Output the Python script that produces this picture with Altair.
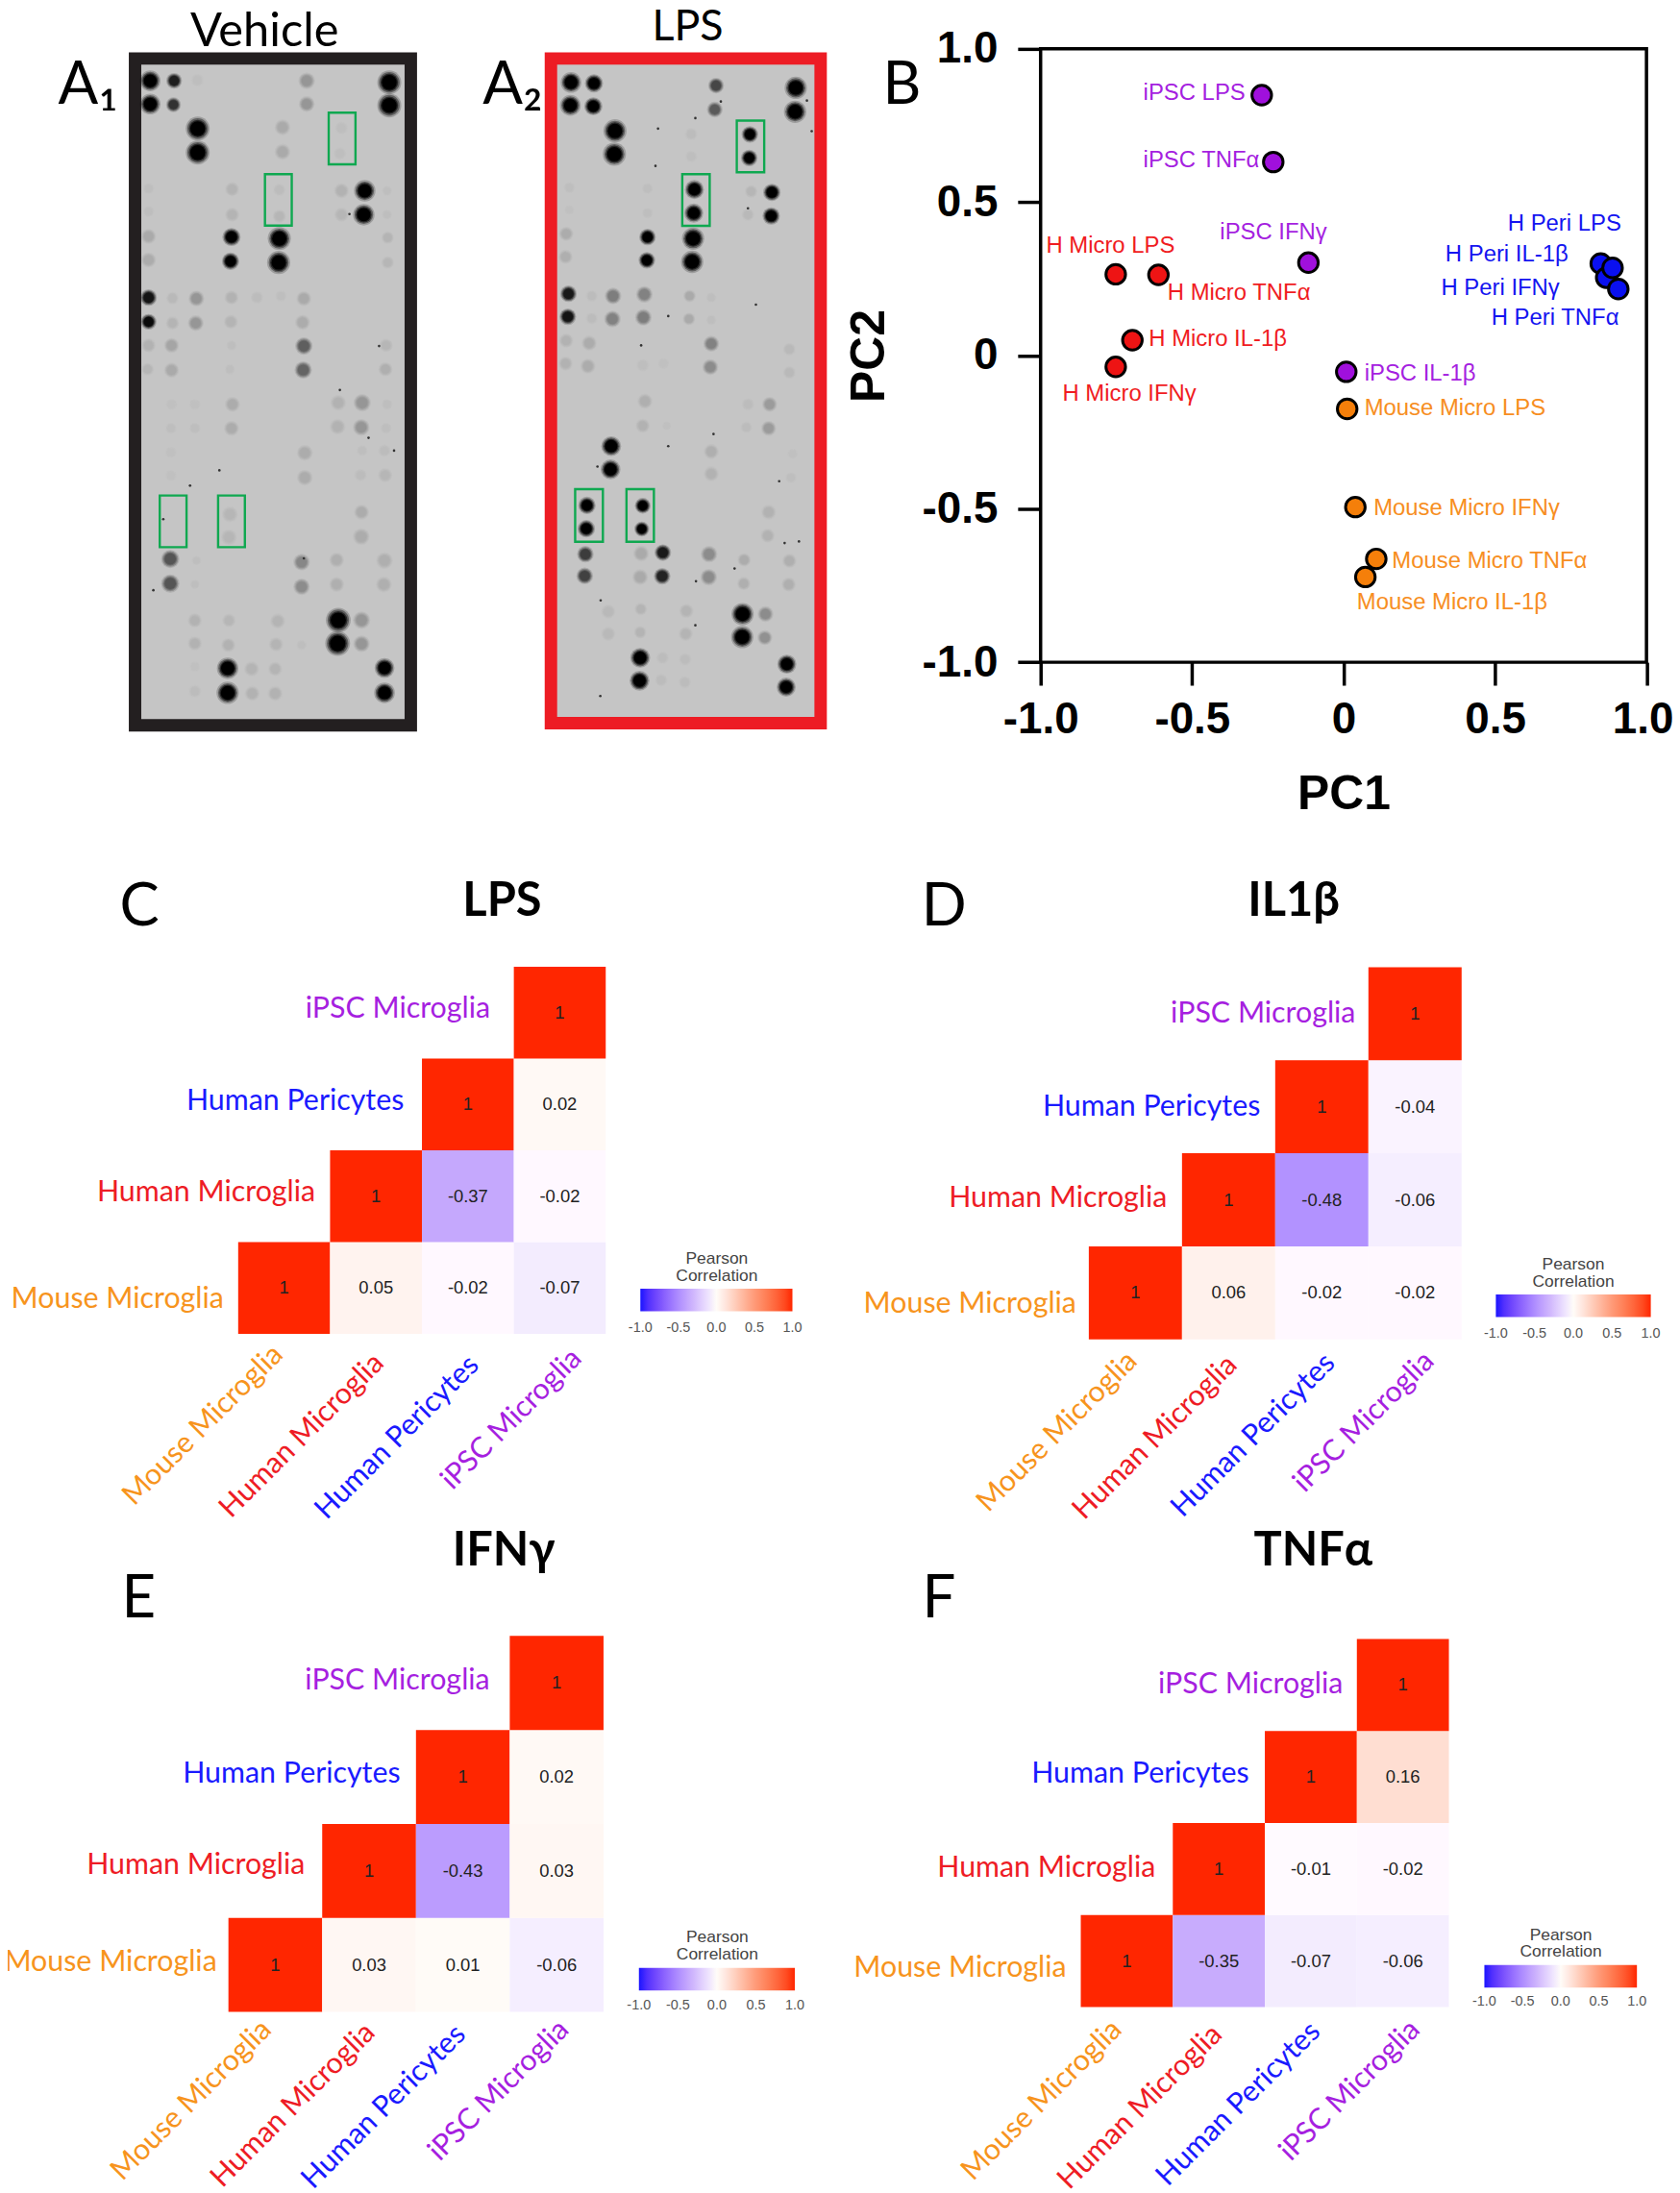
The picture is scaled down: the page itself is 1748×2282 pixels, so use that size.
import altair as alt
import pandas as pd

SANS = "Liberation Sans"
CAL = "Lato"

# ---------- Panel A: blot spots, read as (x, y, diameter, grey) in 1/3-pixel units
A1_top = [(105,120,50,0),(105,193,50,0),(180,120,38,30),(178,195,36,50),(253,118,30,190),
(596,120,40,150),(596,193,38,150),(855,125,58,0),(855,197,58,0),(254,270,58,0),(254,345,58,0),
(520,266,38,170),(520,343,38,170),(705,268,30,190),(700,348,30,190),(100,458,26,190),(100,530,26,190),
(362,460,34,180),(362,540,34,180),(510,462,30,188),(510,545,32,182),(705,465,36,178),(705,540,34,182),
(778,465,52,0),(775,540,52,0),(848,465,24,190),(848,540,24,190),(100,608,36,170),(100,682,36,172),
(360,610,44,0),(357,686,42,0),(510,615,56,0),(508,690,56,0),(850,612,30,180),(850,690,30,182),
(100,800,40,20),(100,876,38,10),(175,802,30,185),(175,880,32,180),(250,803,38,150),(248,880,38,150),
(360,800,34,178),(358,876,34,180),(440,800,30,188),(515,795,26,190),(587,803,36,170),(583,878,36,172),
(100,950,34,178),(97,1025,30,182),(172,950,36,165),(172,1028,36,170),(587,952,42,95),(585,1027,42,100),
(845,950,32,182),(843,1025,34,175),(360,950,24,190),(355,1025,24,190)]
A1_bot = [(172,55,26,192),(170,130,26,190),(245,55,26,192),(245,130,26,190),(363,55,36,172),(360,130,36,172),
(695,50,38,178),(693,125,38,178),(770,50,42,150),(767,127,40,150),(848,55,26,190),(845,130,26,190),
(590,207,38,172),(590,285,38,172),(770,200,26,190),(765,277,30,188),(840,200,30,188),(842,277,34,182),
(170,205,26,192),(170,278,26,192),(355,400,38,182),(352,472,38,182),(768,393,36,172),(767,470,40,172),
(168,540,44,85),(168,617,44,85),(250,545,22,190),(245,620,22,190),(580,550,40,135),(580,627,40,140),
(690,543,36,175),(690,620,36,175),(840,545,40,175),(838,620,38,175),(245,733,34,178),(245,805,34,178),
(352,733,32,182),(350,810,34,178),(505,735,36,180),(500,808,34,180),(580,810,24,190),(695,732,60,0),
(693,805,60,0),(768,732,42,150),(768,806,40,150),(245,878,24,192),(245,955,30,188),(348,883,52,0),
(348,960,54,0),(423,885,36,180),(425,962,36,178),(497,885,34,180),(497,962,36,178),(840,882,48,0),(840,960,50,0)]
A1_specks = [(730,538),(823,952),(700,1090),(790,1240),(870,1280),(322,1342),(230,1390),(146,1495),(115,1718),(587,1618)]
A1_boxes = [(665,220,749,382),(465,413,549,574),(135,1421,219,1583),(318,1421,402,1583)]

A2_top = [(105,125,50,0),(103,197,50,0),(177,128,44,0),(175,200,44,0),(560,135,38,70),(556,210,38,90),
(810,142,54,0),(808,217,54,0),(243,277,56,0),(241,350,56,0),(482,287,30,188),(482,357,28,190),
(666,288,40,0),(664,362,40,0),(492,461,46,0),(490,535,46,0),(735,470,42,0),(733,544,42,0),
(670,467,30,182),(660,540,30,185),(100,455,26,190),(100,525,22,192),(345,458,26,190),(345,535,26,190),
(90,600,34,172),(88,672,34,175),(345,610,40,0),(343,683,40,0),(488,615,54,0),(485,688,54,0),
(97,788,40,25),(95,860,40,20),(170,795,28,188),(170,865,28,188),(237,795,40,125),(235,867,40,130),
(335,790,40,130),(332,862,40,125),(477,795,30,170),(475,867,30,170),(545,800,24,190),(545,870,24,190),
(90,935,34,178),(88,1007,34,178),(162,943,36,172),(158,1015,36,172),(545,945,38,130),(542,1018,38,140),
(790,962,30,185),(790,1035,30,185),(330,1012,30,190),(395,1007,26,192)]
A2_bot = [(337,45,36,175),(330,122,34,178),(405,122,20,192),(660,55,30,188),(655,127,28,188),(728,55,36,155),
(725,130,36,155),(545,203,36,175),(545,273,36,178),(231,186,48,0),(229,259,48,0),(725,393,36,178),(722,467,34,178),
(800,210,24,192),(795,285,26,190),(155,372,42,0),(153,445,42,0),(330,373,38,0),(327,446,36,0),(150,525,40,60),
(148,593,40,65),(325,523,38,170),(322,597,38,170),(393,520,40,25),(391,594,40,35),(538,525,40,140),(537,597,40,140),
(648,543,32,172),(647,617,32,175),(790,546,34,175),(788,620,34,175),(222,705,34,185),(222,775,34,185),
(324,697,30,180),(322,770,30,180),(467,703,34,180),(465,775,34,180),(643,713,54,0),(642,785,54,0),
(715,713,38,140),(713,787,36,145),(322,850,48,0),(320,922,48,0),(392,850,30,188),(388,920,30,188),
(463,855,30,188),(462,927,30,188),(782,870,46,0),(780,942,46,0)]
A2_specks = [(575,185),(495,237),(378,270),(370,387),(660,520),(325,950),(845,182),(860,278),(685,822),(410,858),
(552,1228),(410,1266),(188,1330),(758,1376),(775,1570),(820,1565),(618,1650),(497,1690),(198,1750),(495,1828),(197,2050)]
A2_boxes = [(625,245,711,407),(454,413,540,575),(118,1401,205,1566),(279,1401,365,1566)]

# ---------- Panel B: PCA
pca_names = ["iPSC LPS","iPSC TNFα","iPSC IFNγ","iPSC IL-1β",
             "H Micro LPS","H Micro TNFα","H Micro IL-1β","H Micro IFNγ",
             "H Peri LPS","H Peri IFNγ","H Peri TNFα","H Peri IL-1β",
             "Mouse Micro LPS","Mouse Micro IFNγ","Mouse Micro TNFα","Mouse Micro IL-1β"]
pca_x = [-0.27,-0.232,-0.116,0.009,-0.752,-0.611,-0.697,-0.752,0.849,0.867,0.907,0.888,0.012,0.039,0.108,0.072]
pca_y = [0.849,0.631,0.303,-0.053,0.265,0.263,0.05,-0.037,0.30,0.254,0.217,0.286,-0.174,-0.494,-0.663,-0.722]
pca_label_x = [-0.661,-0.661,-0.408,0.069,-0.982,-0.581,-0.643,-0.928,0.542,0.322,0.488,0.336,0.069,0.099,0.160,0.044]
pca_label_y = [0.854,0.636,0.40,-0.061,0.357,0.203,0.053,-0.126,0.429,0.220,0.122,0.329,-0.173,-0.497,-0.672,-0.804]
pca_fill = ["#a010dc"]*4 + ["#ee1414"]*4 + ["#0a10f0"]*4 + ["#f57f0a"]*4
pca_text = ["#a51fe0"]*4 + ["#f01c22"]*4 + ["#1414f0"]*4 + ["#f78e22"]*4
pca_ticks = [-1.0,-0.5,0,0.5,1.0]

# ---------- Panels C-F: correlation matrices
cells = ["Mouse Microglia","Human Microglia","Human Pericytes","iPSC Microglia"]
cell_colors = ["#f7941d","#ee1c25","#1a1aff","#a61fe0"]
upper_pairs = [(0,0),(1,0),(2,0),(3,0),(1,1),(2,1),(3,1),(2,2),(3,2),(3,3)]
lps_vals = [1,0.05,-0.02,-0.07,1,-0.37,-0.02,1,0.02,1]
il1_vals = [1,0.06,-0.02,-0.02,1,-0.48,-0.06,1,-0.04,1]
ifn_vals = [1,0.03,0.01,-0.06,1,-0.43,0.03,1,0.02,1]
tnf_vals = [1,-0.35,-0.07,-0.06,1,-0.01,-0.02,1,0.16,1]
stops = [-1,-0.75,-0.48,-0.35,-0.07,0,0.05,0.16,0.5,1]
stop_colors = ["#1a14ff","#7a50fd","#b292ff","#c8acfd","#f3ecfe","#ffffff","#fff3ef","#ffded2","#ff9a78","#ff2600"]
legend_ticks = ["-1.0","-0.5","0.0","0.5","1.0"]

COL1, COL2, COL3, COL3_W = 133, 567, 1086, 633.5
ROW1_TOP, ROW1_H = 46.6, 641.4
ROW2_TOP, ROW3_TOP = 1005.8, 1705.3
ROW_GAP = ROW2_TOP - (ROW1_TOP + ROW1_H)
ROW2_H = ROW3_TOP - ROW2_TOP - ROW_GAP
one = pd.DataFrame({"a": [0]})
ROOT2 = 2 ** 0.5


def note(text, x, y, ox, oy, size, font=CAL, weight="normal", align="center", color="black"):
    return alt.Chart(pd.DataFrame({"t": [text]})).mark_text(
        font=font, fontSize=size, fontWeight=weight, align=align, baseline="alphabetic", color=color
    ).encode(x=alt.value(x - ox), y=alt.value(y - oy), text="t:N")


def blot(top, bot, specks, boxes, frame, frame_color, left, width, x0, notes, guard=False):
    sx = alt.Scale(domain=[(left - x0) * 3, (left + width - x0) * 3], nice=False, zero=False)
    sy = alt.Scale(domain=[(ROW1_TOP + ROW1_H - 40) * 3, (ROW1_TOP - 40) * 3], nice=False, zero=False)
    X = lambda f: alt.X(f, scale=sx, axis=None)
    Y = lambda f: alt.Y(f, scale=sy, axis=None)
    fr = pd.DataFrame([dict(x=frame[0], y=frame[1], x2=frame[2], y2=frame[3])])
    back = alt.Chart(fr).mark_rect(fill="#c5c5c5", stroke=frame_color, strokeWidth=13).encode(
        x=X("x:Q"), x2="x2:Q", y=Y("y:Q"), y2="y2:Q")
    rows = [dict(x=a, y=b, d=c, g=e) for a, b, c, e in top] + [dict(x=a, y=b + 1080, d=c, g=e) for a, b, c, e in bot]
    df = pd.DataFrame(rows)
    df["c"] = [f"rgb({g},{g},{g})" for g in df.g]
    layers = [back]
    for k, op in [(1.3, 0.2), (1.12, 0.4), (0.95, 0.6), (0.8, 1.0)]:
        d2 = df.copy()
        d2["s"] = (d2.d / 3 * k) ** 2
        layers.append(alt.Chart(d2).mark_circle(opacity=op).encode(
            x=X("x:Q"), y=Y("y:Q"), size=alt.Size("s:Q", scale=None, legend=None),
            color=alt.Color("c:N", scale=None, legend=None)))
    sp = pd.DataFrame(specks, columns=["x", "y"])
    layers.append(alt.Chart(sp).mark_circle(size=7, color="#333333", opacity=1).encode(x=X("x:Q"), y=Y("y:Q")))
    bx = pd.DataFrame(boxes, columns=["x", "y", "x2", "y2"])
    layers.append(alt.Chart(bx).mark_rect(fillOpacity=0, stroke="#0fa850", strokeWidth=2.4).encode(
        x=X("x:Q"), x2="x2:Q", y=Y("y:Q"), y2="y2:Q"))
    layers += [note(*n[:3], left, ROW1_TOP, n[3]) for n in notes]
    if guard:
        layers.append(alt.Chart(one).mark_rect(opacity=0).encode(
            x=alt.value(-left), x2=alt.value(-left + 1), y=alt.value(-ROW1_TOP), y2=alt.value(-ROW1_TOP + 1)))
    return alt.layer(*layers).properties(width=width, height=ROW1_H)


def heat(vals, left, view_top, view_w, cell_left, cell_right, cell_top, cell_bottom,
         title, title_x, title_y, letter, letter_x, letter_y,
         y_dx, y_dy, x_dx, x_dy, lx, ly, view_h, glen, bar_bottom):
    x_s = alt.Scale(type="band", domain=cells, range=[cell_left - left, cell_right - left], padding=0)
    y_s = alt.Scale(type="band", domain=cells[::-1], range=[cell_top - view_top, cell_bottom - view_top], padding=0)
    df = pd.DataFrame({"x": [cells[a] for a, b in upper_pairs], "y": [cells[b] for a, b in upper_pairs], "v": vals})
    df["t"] = [str(v) for v in vals]
    rect = alt.Chart(df).mark_rect().encode(
        x=alt.X("x:N", scale=x_s, axis=None), y=alt.Y("y:N", scale=y_s, axis=None),
        color=alt.Color("v:Q", scale=alt.Scale(domain=stops, range=stop_colors),
                        legend=alt.Legend(orient="none", legendX=lx - left, legendY=ly - view_top, direction="horizontal",
                                          gradientLength=glen, gradientThickness=23.5, title=["Pearson", "Correlation"],
                                          titleFont=SANS, titleFontSize=17.5, titleFontWeight="normal", titleColor="#444444",
                                          titleAnchor="middle", titleLineHeight=18, titlePadding=5, values=[],
                                          padding=0, gradientStrokeWidth=0)))
    txt = alt.Chart(df).mark_text(font=SANS, fontSize=18.5, color="#222222").encode(
        x=alt.X("x:N", scale=x_s, axis=None), y=alt.Y("y:N", scale=y_s, axis=None), text="t:N")
    layers = [rect, txt]
    for i, name in enumerate(cells):
        lab = pd.DataFrame({"x": [name], "y": [name], "t": [name]})
        layers.append(alt.Chart(lab).mark_text(font=CAL, fontSize=30.5, align="right", baseline="middle",
                                               color=cell_colors[i], dx=y_dx[i], dy=y_dy[i]).encode(
            x=alt.X("x:N", scale=x_s, axis=None, bandPosition=0), y=alt.Y("y:N", scale=y_s, axis=None), text="t:N"))
        lab2 = pd.DataFrame({"x": [name], "y": [cells[0]], "t": [name]})
        # Vega turns dx/dy with the text, so screen offsets are turned back by 45 degrees here
        a, b = x_dx[i], x_dy[i]
        layers.append(alt.Chart(lab2).mark_text(font=CAL, fontSize=30.5, align="right", baseline="middle", angle=315,
                                                color=cell_colors[i], dx=(a - b) / ROOT2, dy=(a + b) / ROOT2).encode(
            x=alt.X("x:N", scale=x_s, axis=None), y=alt.Y("y:N", scale=y_s, axis=None, bandPosition=1), text="t:N"))
    for i, t in enumerate(legend_ticks):
        layers.append(note(t, lx + i * glen / 4, bar_bottom + 19, left, view_top, 14.5, font=SANS, color="#555555"))
    layers.append(note(title, title_x, title_y, left, view_top, 49, weight="bold"))
    layers.append(note(letter, letter_x, letter_y, left, view_top, 62))
    return alt.layer(*layers).resolve_scale(color="independent").properties(width=view_w, height=view_h)


# ---------- Row 1
A1 = blot(A1_top, A1_bot, A1_specks, A1_boxes, (57.5, 50, 922.5, 2142), "#231f20", COL1, COL2 - COL1, 120,
          [("Vehicle", 274.5, 44, 49), ("A₁", 90, 104, 62)], guard=True)
A2 = blot(A2_top, A2_bot, A2_specks, A2_boxes, (42, 50, 888, 2135), "#ed1c24", COL2, COL3 - COL2, 560,
          [("LPS", 717, 38, 45), ("A₂", 534, 104, 62), ("B", 941, 104, 62)])

pca = pd.DataFrame({"n": pca_names, "x": pca_x, "y": pca_y, "lx": pca_label_x, "ly": pca_label_y, "f": pca_fill, "c": pca_text})
sxb = alt.Scale(domain=[-1, 1], nice=False, zero=False)
syb = alt.Scale(domain=[-1, 1], nice=False, zero=False)
lab_expr = "datum.value == 0 ? '0' : replace(format(datum.value, '.1f'), '−', '-')"
axis_common = dict(values=pca_ticks, labelExpr=lab_expr, grid=False, domain=False, tickSize=24, tickWidth=3.5, tickColor="black",
                   labelFont=SANS, labelFontWeight="bold", labelFontSize=46, labelColor="black", labelOverlap=False,
                   labelFlush=False, titleFont=SANS, titleFontWeight="bold", titleFontSize=50, titleColor="black")
pts = alt.Chart(pca).mark_point(filled=True, fillOpacity=1, stroke="black", strokeWidth=3, opacity=1, shape="circle", size=420).encode(
    x=alt.X("x:Q", scale=sxb, axis=alt.Axis(title="PC1", labelPadding=14, titlePadding=30,
                                            labelOffset=alt.expr("datum.value == 1 ? -4 : 0"), **axis_common)),
    y=alt.Y("y:Q", scale=syb, axis=alt.Axis(title="PC2", labelPadding=21, titlePadding=30, **axis_common)),
    fill=alt.Fill("f:N", scale=None, legend=None))
lbl = alt.Chart(pca).mark_text(font=SANS, fontSize=24, align="left", baseline="middle").encode(
    x=alt.X("lx:Q", scale=sxb), y=alt.Y("ly:Q", scale=syb), text="n:N", color=alt.Color("c:N", scale=None, legend=None))
B = alt.layer(pts, lbl).properties(width=COL3_W, height=ROW1_H,
                                   view=alt.ViewBackground(stroke="black", strokeWidth=3.5))

# ---------- Rows 2 and 3
W1, W2 = COL2 - COL1, COL3 - COL2
C = heat(lps_vals, COL1, ROW2_TOP, W1, 247, 631.3, 1005.8, 1389.7, "LPS", 523, 952.7, "C", 143.7, 962.5,
         [-15, -15.4, -18.8, -24.7], [11.5, -4, -3.7, -4], [-6, 3.3, 6.7, 18], [17, 26, 28, 21], 667.5, 1302, ROW2_H, 159, 1368.8)
D = heat(il1_vals, COL2, ROW2_TOP, W2, 1136.4, 1526.2, 1006.3, 1395.5, "IL1β", 1350.7, 952.7, "D", 985, 962.5,
         [-13, -15.6, -15.6, -13.4], [11.7, -1.7, 0, 0], [-3, 4, 9, 15], [18, 22, 20, 18], 1562, 1308, ROW2_H, 162, 1374.6)
E = heat(ifn_vals, COL1, ROW3_TOP, W1, 236.8, 629, 1705.3, 2098.4, "IFNγ", 524.7, 1631.5, "E", 143, 1686,
         [-12, -18, -16.3, -20.8], [-3, -6, -3, -2], [-9, 1.4, -2, 8], [14, 17, 19, 14], 666, 2012, 393, 163, 2076.9)
F = heat(tnf_vals, COL2, ROW3_TOP, W2, 1128, 1512.9, 1708.5, 2093.4, "TNFα", 1371, 1631.5, "F", 979.7, 1686,
         [-15, -18, -16.5, -14.5], [7, -1, -3.4, -0.5], [-10, -1.4, 5, 13], [19, 24, 21, 19], 1550, 2009, 393, 159.5, 2072.4)

def filler():
    return alt.Chart(one).mark_point(opacity=0).encode(x=alt.value(0), y=alt.value(0)).properties(width=COL3_W, height=1)

chart = alt.concat(A1, A2, B, C, D, filler(), E, F, filler(), columns=3,
                   spacing=alt.RowColnumber(row=ROW_GAP, column=0), bounds="flush"
                   ).configure_view(stroke=None).properties(
    background="white", padding={"left": -6, "top": -9.5, "right": -3.5, "bottom": -12.5})

chart.save("out.html", embed_options={"renderer": "svg", "actions": False})
